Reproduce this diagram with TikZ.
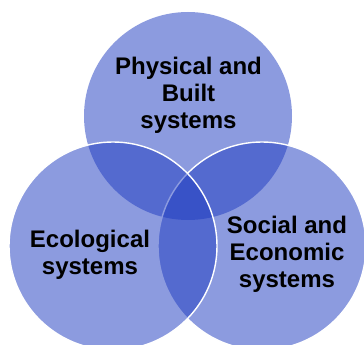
\documentclass[tikz,border=0pt]{standalone}
\usepackage{fontspec}
\setmainfont{Liberation Sans}
\definecolor{vennblue}{RGB}{31,60,193}
\begin{document}
\begin{tikzpicture}[x=1pt,y=-1pt,
  venn/.style={circle, minimum size=208pt, inner sep=0pt, fill=vennblue, fill opacity=0.51, draw=white, line width=1.4pt},
  lbl/.style={align=center, inner sep=0pt, text=black, font=\fontsize{24}{27}\selectfont\bfseries}]
\useasboundingbox (0,0) rectangle (364,345);
\fill[white] (0,0) rectangle (364,345);
\node[venn, draw=none] (phys) at (188,116) {};
\node[venn] (soc) at (262,246) {};
\node[venn] (eco) at (113,246) {};
\node[lbl] (physlbl) at (188.5,95.4) {Physical and\\Built\\systems};
\node[lbl] (ecolbl) at (90,254.9) {Ecological\\systems};
\node[lbl] (soclbl) at (287,254.4) {Social and\\Economic\\systems};
\end{tikzpicture}
\end{document}
